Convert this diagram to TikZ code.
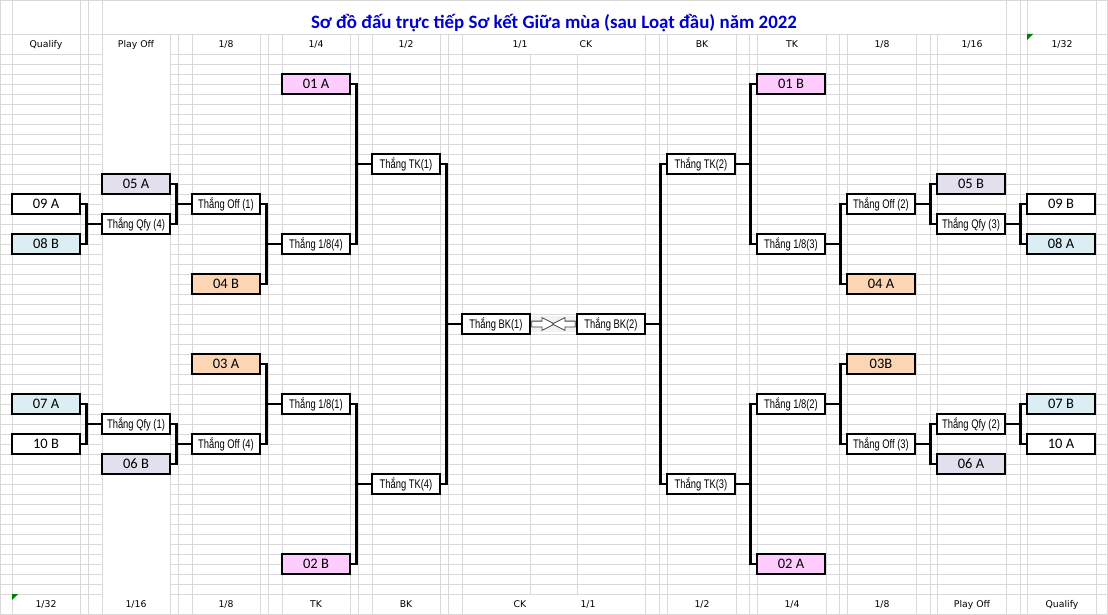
\documentclass[tikz,border=0pt]{standalone}
\usepackage{fontspec}
\setmainfont{Carlito}
\newfontfamily\narrowfont[FakeStretch=0.75]{Liberation Sans}
\newfontfamily\headfont{DejaVu Sans}
\usetikzlibrary{shapes.arrows}
\definecolor{gridgray}{RGB}{217,217,217}
\definecolor{seedpink}{RGB}{255,204,255}
\definecolor{seedpeach}{RGB}{252,213,180}
\definecolor{seedlilac}{RGB}{228,223,236}
\definecolor{seedblue}{RGB}{218,238,243}
\definecolor{titleblue}{RGB}{0,0,204}
\definecolor{notegreen}{RGB}{0,128,0}
\begin{document}
\begin{tikzpicture}[
    x=1pt, y=-1pt,
    team/.style={draw, fill=white, line width=2.8pt, minimum width=68pt, minimum height=20pt,
      inner sep=0pt, text height=9pt, text depth=0pt, font=\fontsize{14.5}{15}\selectfont},
    winner/.style={team, font=\narrowfont\fontsize{12.5}{13}\selectfont},
    link/.style={line width=2.8pt},
    grid/.style={draw=gridgray, line width=0.9pt},
    colhead/.style={inner sep=0pt, text height=6.8pt, text depth=0pt, font=\headfont\fontsize{9.3}{10}\selectfont},
    pointer/.style={single arrow, draw=black!75, fill=white, line width=0.8pt, minimum height=23pt,
      inner sep=2.5pt, single arrow head extend=3.5pt, single arrow tip angle=53, anchor=tail},
    ]
    \useasboundingbox (0,0) rectangle (1108,615);

    % sheet grid
    \foreach \y in {54,64,...,594}
      \draw[grid] (0,\y) -- (102,\y) (170,\y) -- (1108,\y);
    \foreach \y in {0.5,34,614}
      \draw[grid] (0,\y) -- (1108,\y);
    \foreach \x in {0.5,12,80.5,88,102,1006,1020,1027,1096,1107}
      \draw[grid] (\x,0) -- (\x,615);
    \foreach \x in {170,178,192,260,268,282,350,358,372,440,448,462,645,659,667,736,749,757,826,839,847,916,930,937}
      \draw[grid] (\x,34) -- (\x,615);
    \foreach \x in {530,577}
      \draw[grid] (\x,54) -- (\x,594);
    \fill[notegreen] (1027,34) -- ++(6,0) -- ++(-6,6) -- cycle;
    \fill[notegreen] (12,594) -- ++(6,0) -- ++(-6,6) -- cycle;

    \node[font=\bfseries\fontsize{18.9}{22}\selectfont, text=titleblue, inner sep=0pt,
      text height=12pt, text depth=0pt] (title) at (554,22.5)
      {Sơ đồ đấu trực tiếp Sơ kết Giữa mùa (sau Loạt đầu) năm 2022};

    % round names
    \foreach \x/\t [count=\i] in {46/Qualify,136/Play Off,226/{1/8},316/{1/4},406/{1/2},520/{1/1},586/CK,
        702/BK,792/TK,882/{1/8},972/{1/16},1062/{1/32}}
      \node[colhead] (top\i) at (\x,44) {\t};
    \foreach \x/\t [count=\i] in {46/{1/32},136/{1/16},226/{1/8},316/TK,406/BK,520/CK,588/{1/1},
        702/{1/2},792/{1/4},882/{1/8},972/Play Off,1062/Qualify}
      \node[colhead] (bot\i) at (\x,604) {\t};

    % left half
    \node[team, fill=seedpink] (a1) at (316,84) {01 A};
    \node[team, fill=seedlilac] (a5) at (136,184) {05 A};
    \node[team] (a9) at (46,204) {09 A};
    \node[winner] (q4) at (136,224) {Thắng Qfy (4)};
    \node[team, fill=seedblue] (b8) at (46,244) {08 B};
    \node[winner] (o1) at (226,204) {Thắng Off (1)};
    \node[winner] (e4) at (316,244) {Thắng 1/8(4)};
    \node[team, fill=seedpeach] (b4) at (226,284) {04 B};
    \node[winner] (k1) at (406,164) {Thắng TK(1)};
    \node[winner] (s1) at (496,324) {Thắng BK(1)};
    \node[team, fill=seedpeach] (a3) at (226,364) {03 A};
    \node[team, fill=seedblue] (a7) at (46,404) {07 A};
    \node[winner] (e1) at (316,404) {Thắng 1/8(1)};
    \node[winner] (q1) at (136,424) {Thắng Qfy (1)};
    \node[team] (b10) at (46,444) {10 B};
    \node[winner] (o4) at (226,444) {Thắng Off (4)};
    \node[team, fill=seedlilac] (b6) at (136,464) {06 B};
    \node[winner] (k4) at (406,484) {Thắng TK(4)};
    \node[team, fill=seedpink] (b2) at (316,564) {02 B};

    % right half
    \node[team, fill=seedpink] (b1) at (791,84) {01 B};
    \node[winner] (k2) at (701,164) {Thắng TK(2)};
    \node[team, fill=seedlilac] (b5) at (971,184) {05 B};
    \node[team] (b9) at (1061,204) {09 B};
    \node[winner] (o2) at (881,204) {Thắng Off (2)};
    \node[winner] (q3) at (971,224) {Thắng Qfy (3)};
    \node[team, fill=seedblue] (a8) at (1061,244) {08 A};
    \node[winner] (e3) at (791,244) {Thắng 1/8(3)};
    \node[team, fill=seedpeach] (a4) at (881,284) {04 A};
    \node[winner] (s2) at (611,324) {Thắng BK(2)};
    \node[team, fill=seedpeach] (b3) at (881,364) {03B};
    \node[team, fill=seedblue] (b7) at (1061,404) {07 B};
    \node[winner] (e2) at (791,404) {Thắng 1/8(2)};
    \node[winner] (q2) at (971,424) {Thắng Qfy (2)};
    \node[team] (a10) at (1061,444) {10 A};
    \node[winner] (o3) at (881,444) {Thắng Off (3)};
    \node[team, fill=seedlilac] (a6) at (971,464) {06 A};
    \node[winner] (k3) at (701,484) {Thắng TK(3)};
    \node[team, fill=seedpink] (a2) at (791,564) {02 A};

    % brackets
    \foreach \u/\l/\w in {a9/b8/q4, a5/q4/o1, o1/b4/e4, a1/e4/k1, k1/k4/s1,
        a3/o4/e1, a7/b10/q1, q1/b6/o4, e1/b2/k4}
      \draw[link] (\u.east) -| ([xshift=-14pt]\w.west) |- (\l.east)
        ([xshift=-14pt]\w.west) -- (\w.west);
    \foreach \u/\l/\w in {b9/a8/q3, b5/q3/o2, o2/a4/e3, b1/e3/k2, k2/k3/s2,
        b3/o3/e2, b7/a10/q2, q2/a6/o3, e2/a2/k3}
      \draw[link] (\u.west) -| ([xshift=14pt]\w.east) |- (\l.west)
        ([xshift=14pt]\w.east) -- (\w.east);

    % final
    \fill[black!5] (s1.east |- 0,316) rectangle (s2.west |- 0,332);
    \node[pointer] (p1) at (s1.east) {};
    \node[pointer, rotate=180] (p2) at (s2.west) {};

  \end{tikzpicture}
\end{document}
